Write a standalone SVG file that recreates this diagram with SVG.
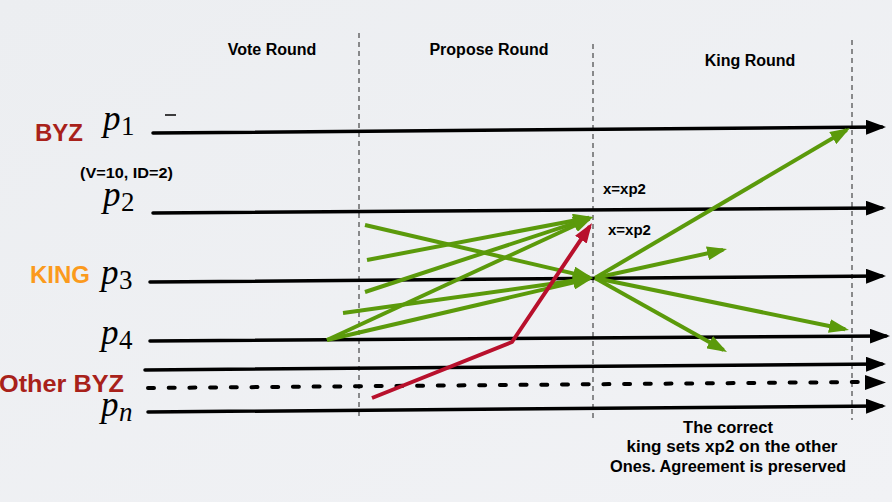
<svg xmlns="http://www.w3.org/2000/svg" width="892" height="502" viewBox="0 0 892 502">
<defs>
<linearGradient id="bg" x1="0" y1="0" x2="1" y2="1">
<stop offset="0" stop-color="#eceef1"/>
<stop offset="1" stop-color="#f1f2f5"/>
</linearGradient>
<marker id="ab" markerUnits="userSpaceOnUse" markerWidth="20" markerHeight="15" refX="16" refY="7.5" orient="auto"><path d="M0,0 L20,7.5 L0,15 z" fill="#000"/></marker>
<marker id="ag" markerUnits="userSpaceOnUse" markerWidth="20" markerHeight="14" refX="16" refY="7" orient="auto"><path d="M0,0 L20,7 L0,14 z" fill="#5b9a0b"/></marker>
<marker id="ar" markerUnits="userSpaceOnUse" markerWidth="20" markerHeight="14" refX="16" refY="7" orient="auto"><path d="M0,0 L20,7 L0,14 z" fill="#b8102c"/></marker>
<style>
.lane{stroke:#000;stroke-width:3.5;stroke-linecap:round;fill:none;marker-end:url(#ab)}
.dash{stroke:#000;stroke-width:4;stroke-linecap:round;stroke-dasharray:6 14.7;fill:none}
.div{stroke:#222;stroke-width:1;stroke-dasharray:5 4;fill:none}
.g{stroke:#5b9a0b;stroke-width:4;fill:none;marker-end:url(#ag)}
.r{stroke:#b8102c;stroke-width:4;fill:none;stroke-linejoin:round;marker-end:url(#ar)}
.p{font-family:"Liberation Serif",serif;font-style:italic;font-size:35px;fill:#000}
.sub{font-family:"Liberation Serif",serif;font-size:27px;fill:#000}
.subi{font-family:"Liberation Serif",serif;font-style:italic;font-size:27px;fill:#000}
.tag{font-family:"Liberation Sans",Arial,sans-serif;font-weight:bold;font-size:24px}
.hd{font-family:"Liberation Sans",Arial,sans-serif;font-weight:bold;font-size:16px;fill:#000;text-anchor:middle}
.sm{font-family:"Liberation Sans",Arial,sans-serif;font-weight:bold;font-size:15px;fill:#000}
.note{font-family:"Liberation Sans",Arial,sans-serif;font-weight:bold;font-size:16.5px;fill:#000;text-anchor:middle}
</style>
</defs>
<rect width="892" height="502" fill="url(#bg)"/>

<g id="round-dividers">
<line class="div" x1="359" y1="33" x2="359" y2="416"/>
<line class="div" x1="593" y1="44" x2="593" y2="420"/>
<line class="div" x1="852" y1="40" x2="852" y2="420"/>
</g>

<g id="round-labels">
<text class="hd" x="272" y="55">Vote Round</text>
<text class="hd" x="489" y="55">Propose Round</text>
<text class="hd" x="750" y="66">King Round</text>
</g>

<g id="p1">
<text class="tag" x="35" y="141" fill="#a8211a">BYZ</text>
<text class="p" x="103" y="130">p</text><text class="sub" x="121" y="135">1</text>
<line x1="165" y1="115" x2="176" y2="115" stroke="#000" stroke-width="1.5"/>
<line class="lane" x1="153" y1="133" x2="882" y2="127"/>
</g>

<g id="p2">
<text class="sm" x="80" y="178" textLength="93" lengthAdjust="spacingAndGlyphs">(V=10, ID=2)</text>
<text class="p" x="103" y="206">p</text><text class="sub" x="121" y="211">2</text>
<line class="lane" x1="153" y1="213" x2="882" y2="208"/>
</g>

<g id="p3">
<text class="tag" x="30" y="283" fill="#fb9a1c">KING</text>
<text class="p" x="101" y="284">p</text><text class="sub" x="119" y="289">3</text>
<line class="lane" x1="150" y1="282" x2="882" y2="276"/>
</g>

<g id="p4">
<text class="p" x="101" y="344">p</text><text class="sub" x="119" y="349">4</text>
<line class="lane" x1="150" y1="341" x2="886" y2="336"/>
</g>

<g id="other-byz">
<text class="tag" x="-1" y="392" fill="#a8211a" textLength="125" lengthAdjust="spacingAndGlyphs">Other BYZ</text>
<line class="lane" x1="145" y1="370" x2="882" y2="364"/>
<line class="dash" x1="148" y1="388" x2="862" y2="382"/>
<path d="M865,375 L886,382.5 L865,390 z" fill="#000"/>
</g>

<g id="pn">
<text class="p" x="101" y="416">p</text><text class="subi" x="119" y="421">n</text>
<line class="lane" x1="148" y1="412" x2="882" y2="406"/>
</g>

<g id="connectors">
<line class="g" x1="365" y1="225" x2="589.1" y2="277.1"/>
<line class="g" x1="367" y1="260" x2="589.1" y2="217.7"/>
<line class="g" x1="365" y1="292" x2="589.2" y2="218.3"/>
<line class="g" x1="343" y1="313" x2="589" y2="278.6"/>
<line class="g" x1="327" y1="340" x2="589.4" y2="218.7"/>
<line class="g" x1="327" y1="340" x2="589.1" y2="278.9"/>
<polyline class="r" points="372,398 512,342 589.8,226.3"/>
<line class="g" x1="595" y1="278" x2="846.6" y2="130"/>
<line class="g" x1="595" y1="278" x2="723.1" y2="249.9"/>
<line class="g" x1="595" y1="278" x2="845.1" y2="329.2"/>
<line class="g" x1="595" y1="278" x2="723.5" y2="350"/>
</g>

<g id="value-labels">
<text class="sm" x="603" y="194">x=xp2</text>
<text class="sm" x="608" y="235">x=xp2</text>
</g>

<g id="note">
<text class="note" x="728" y="433">The correct</text>
<text class="note" x="732" y="452" textLength="211" lengthAdjust="spacingAndGlyphs">king sets xp2 on the other</text>
<text class="note" x="728" y="472" textLength="236" lengthAdjust="spacingAndGlyphs">Ones. Agreement is preserved</text>
</g>
</svg>
